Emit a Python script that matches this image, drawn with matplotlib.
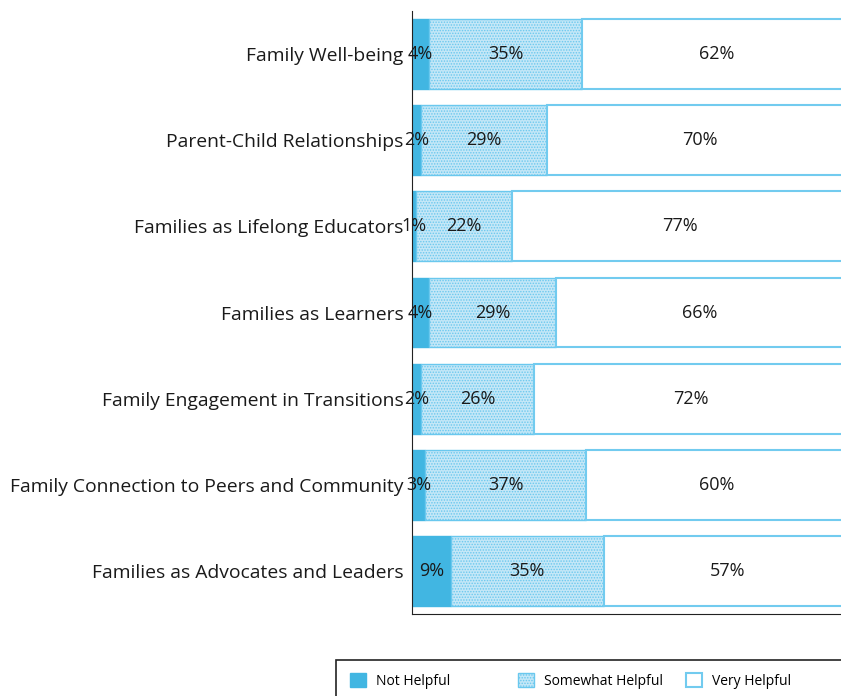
import matplotlib
matplotlib.use("Agg")
import matplotlib.pyplot as plt
from matplotlib.patches import Rectangle
import numpy as np

categories = [
    "Family Well-being",
    "Parent-Child Relationships",
    "Families as Lifelong Educators",
    "Families as Learners",
    "Family Engagement in Transitions",
    "Family Connection to Peers and Community",
    "Families as Advocates and Leaders",
]
not_helpful = [4, 2, 1, 4, 2, 3, 9]
somewhat_helpful = [35, 29, 22, 29, 26, 37, 35]
very_helpful = [62, 70, 77, 66, 72, 60, 57]
series_names = ["Not Helpful", "Somewhat Helpful", "Very Helpful"]

plt.rcParams['font.family'] = ['Open Sans', 'DejaVu Sans']
plt.rcParams['hatch.linewidth'] = 0.7

fig = plt.figure(figsize=(8.41, 6.96), dpi=100)
ax = fig.add_axes([412/841, 1 - 614/696, 1 - 412/841, (614 - 11)/696])

y = np.arange(len(categories))
h = 0.81
b1 = ax.barh(y, not_helpful, height=h, color='#41B6E2', edgecolor='#41B6E2', linewidth=1, label=series_names[0])
left2 = np.array(not_helpful)
b2 = ax.barh(y, somewhat_helpful, left=left2, height=h, color='#C4E7F7', edgecolor='#6AC8EE',
             hatch='......', linewidth=1, label=series_names[1])
left3 = left2 + np.array(somewhat_helpful)
b3 = ax.barh(y, very_helpful, left=left3, height=h, color='white', edgecolor='#72CBEF', linewidth=1.5,
             label=series_names[2])

for vals, lefts in [(not_helpful, np.zeros(len(y))), (somewhat_helpful, left2), (very_helpful, left3)]:
    for yi, v, l in zip(y, vals, lefts):
        ax.text(l + v / 2, yi, f"{v}%", ha='center', va='center', fontsize=13, color='#1a1a1a')

ax.set_xlim(0, 98.5)
ax.set_ylim(len(categories) - 0.5, -0.5)
ax.set_yticks(y)
ax.set_yticklabels(categories, fontsize=13.9, color='#1a1a1a')
ax.tick_params(axis='y', length=0, pad=6)
ax.set_xticks([])
for s in ['top', 'right']:
    ax.spines[s].set_visible(False)
ax.spines['left'].set_color('#222222')
ax.spines['bottom'].set_color('#222222')

# legend frame (extends beyond the figure edge as in the reference)
fig.add_artist(Rectangle((336/841, -0.2), 1.0, 0.2 + (1 - 660/696), transform=fig.transFigure,
                         fill=False, edgecolor='#222222', linewidth=1.2))
for handle, name, xp in zip([b1, b2, b3], series_names, [350, 518, 686]):
    fig.legend(handles=[handle], labels=[name], loc='center left',
               bbox_to_anchor=(xp/841, 1 - 681/696), fontsize=10, frameon=False,
               borderpad=0, borderaxespad=0, handlelength=1.15, handleheight=1.15,
               handletextpad=0.7)

fig.savefig("out.png", dpi=100)
